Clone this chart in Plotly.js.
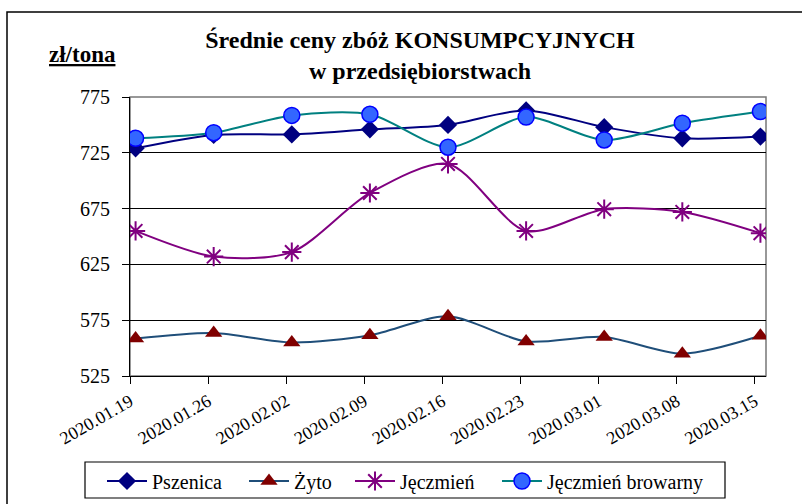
<!DOCTYPE html>
<html>
<head>
<meta charset="utf-8">
<script src="https://cdn.plot.ly/plotly-3.0.1.min.js"></script>
<style>html,body{margin:0;padding:0;background:#fff;}#chart{width:802px;height:504px;}</style>
</head>
<body>
<div id="chart"></div>
<script>
// ---- data ----
const dates = ['2020-01-19','2020-01-26','2020-02-02','2020-02-09','2020-02-16','2020-02-23','2020-03-01','2020-03-08','2020-03-15'];
const tickLabels = ['2020.01.19','2020.01.26','2020.02.02','2020.02.09','2020.02.16','2020.02.23','2020.03.01','2020.03.08','2020.03.15'];
const pszenica = [729, 741, 741.5, 746, 750, 763, 748, 738, 739.5];
const zyto = [558.5, 563.5, 555, 561.5, 578.5, 556, 560, 545, 561];
const jeczmien = [655, 632, 636, 689, 715, 655, 674.5, 672, 653];
const jeczmienBrowarny = [738, 743, 758.5, 759.5, 730, 757, 736.5, 751.5, 762];
const yTicks = [525, 575, 625, 675, 725, 775];

// ---- layout helpers ----
const W = 802, H = 504;
const L = 130, R = 766, T = 97, B = 376;
const pw = R - L, ph = B - T;
const px = x => (x - L) / pw;
const py = y => (B - y) / ph;
const HALF_DAY = 12 * 3600 * 1000;
const t = d => new Date(d + 'T00:00:00Z').getTime();
const iso = ms => new Date(ms).toISOString().slice(0, 19).replace('T', ' ');
const tickVals = dates.map(d => iso(t(d) - HALF_DAY));
const xRange = [iso(t(dates[0]) - HALF_DAY), iso(t(dates[dates.length - 1]) + HALF_DAY)];

const traces = [
  {name: 'Pszenica', legend: 'legend', x: dates, y: pszenica, type: 'scatter', mode: 'lines+markers',
   line: {color: '#000080', width: 2, shape: 'spline', smoothing: 0.8},
   marker: {symbol: 'diamond', size: 14, color: '#000080'}},
  {name: 'Żyto', legend: 'legend2', x: dates, y: zyto, type: 'scatter', mode: 'lines+markers',
   line: {color: '#1F4E79', width: 2, shape: 'spline', smoothing: 0.8},
   marker: {symbol: 'triangle-up', size: 15, color: '#800000'}},
  {name: 'Jęczmień', legend: 'legend3', x: dates, y: jeczmien, type: 'scatter', mode: 'lines+markers',
   line: {color: '#800080', width: 2, shape: 'spline', smoothing: 0.8},
   marker: {symbol: 'asterisk-open', size: 16, color: '#800080', line: {color: '#800080', width: 2}}},
  {name: 'Jęczmień browarny', legend: 'legend4', x: dates, y: jeczmienBrowarny, type: 'scatter', mode: 'lines+markers',
   line: {color: '#008080', width: 2, shape: 'spline', smoothing: 0.8},
   marker: {symbol: 'circle', size: 16, color: '#3366FF', line: {color: '#0000FF', width: 1.5}}}
];

const serif = 'Liberation Serif';
const legendAt = xPix => ({orientation: 'h', x: px(xPix), xanchor: 'left', y: py(481), yanchor: 'middle',
  borderwidth: 0, bgcolor: 'rgba(0,0,0,0)', font: {family: serif, size: 20, color: '#000'}, itemwidth: 40});

const layout = {
  width: W, height: H,
  margin: {l: L, r: W - R, t: T, b: H - B, pad: 0, autoexpand: false},
  paper_bgcolor: '#fff', plot_bgcolor: '#fff',
  font: {family: serif, color: '#000'},
  title: {text: '<b>Średnie ceny zbóż KONSUMPCYJNYCH<br>w przedsiębiorstwach</b>',
          font: {family: serif, size: 24, color: '#000'},
          x: 420 / W, xanchor: 'center', y: 1 - 48 / H, yanchor: 'top', xref: 'container', yref: 'container'},
  showlegend: true,
  legend: legendAt(102),
  legend2: legendAt(244),
  legend3: legendAt(350),
  legend4: legendAt(497),
  xaxis: {type: 'date', range: xRange, tickvals: tickVals, ticktext: tickLabels,
          tickangle: -30, ticks: 'outside', ticklen: 7, tickcolor: '#000', tickwidth: 1,
          showline: true, linecolor: '#000', linewidth: 1, showgrid: false, zeroline: false,
          tickfont: {family: serif, size: 18, color: '#000'}, fixedrange: true, automargin: false},
  yaxis: {range: [525, 775], tickvals: yTicks, ticks: 'outside', ticklen: 7, tickcolor: '#000',
          showline: true, linecolor: '#000', linewidth: 1, showgrid: true, gridcolor: '#000', gridwidth: 1,
          zeroline: false, tickfont: {family: serif, size: 20, color: '#000'}, ticklabelstandoff: 8,
          fixedrange: true, automargin: false},
  shapes: [
    {type: 'rect', xref: 'paper', yref: 'paper', x0: 0, x1: 1, y0: 0, y1: 1,
     line: {color: '#777', width: 1.5}, layer: 'below'},
    {type: 'rect', xref: 'paper', yref: 'paper', x0: px(7), x1: px(830), y0: py(530), y1: py(12),
     line: {color: '#000', width: 1.5}, fillcolor: 'rgba(0,0,0,0)', layer: 'below'},
    {type: 'rect', xref: 'paper', yref: 'paper', x0: px(85), x1: px(725), y0: py(498), y1: py(462),
     line: {color: '#000', width: 1.2}, fillcolor: 'rgba(0,0,0,0)', layer: 'below'}
  ],
  annotations: [
    {text: '<b><u>zł/tona</u></b>', xref: 'paper', yref: 'paper', x: px(82), y: py(55),
     xanchor: 'center', yanchor: 'middle', showarrow: false,
     font: {family: serif, size: 23, color: '#000'}}
  ]
};

Plotly.newPlot('chart', traces, layout, {displayModeBar: false, staticPlot: true});
</script>
</body>
</html>
